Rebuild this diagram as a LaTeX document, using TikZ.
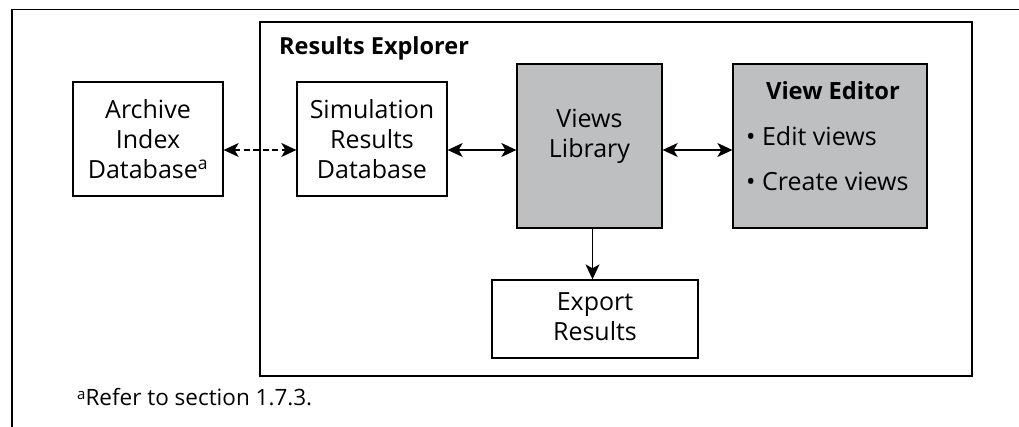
\documentclass[tikz,border=0pt]{standalone}
\usepackage{fontspec}
\setmainfont{Open Sans}
\usetikzlibrary{arrows.meta,calc}
\definecolor{boxgray}{RGB}{190,191,193}
\tikzset{
  frameline/.style={line width=1.4pt, draw=black},
  plainbox/.style={draw=black, line width=1.3pt, fill=white, minimum width=#1, inner sep=0pt},
  graybox/.style={draw=black, line width=1.3pt, fill=boxgray, inner sep=0pt},
  boxtext/.style={font=\fontsize{25}{30}\selectfont, align=center, inner sep=0pt},
  tip/.tip={Stealth[length=15pt,width=14pt,inset=4pt]},
  link/.style={line width=1.3pt, tip-tip},
  onelink/.style={line width=1.3pt, -tip},
  dashlink/.style={link, dash pattern=on 6pt off 3.5pt}
}
\begin{document}
\begin{tikzpicture}[x=1pt, y=-1pt]
  \useasboundingbox (0,0) rectangle (1019,427);
  % page frame (top and left rules)
  \draw[frameline] (1019,9.5) -- (12,9.5) -- (12,427);
  % enclosing Results Explorer box
  \node[draw=black, line width=1.3pt, minimum width=712pt, minimum height=354pt, inner sep=0pt] (explorer) at (616,199) {};
  \node[anchor=base west, font=\fontsize{23.5}{28}\selectfont\bfseries, inner sep=0pt] (title) at (279,55) {Results Explorer};
  % boxes
  \node[plainbox=150pt, minimum height=114pt] (arch) at (148,139) {};
  \node[boxtext] (archtxt) at (148,139) {Archive\\Index\\Database\textsuperscript{a}};
  \node[plainbox=150pt, minimum height=114pt] (sim) at (372,139) {};
  \node[boxtext] (simtxt) at (372,139) {Simulation\\Results\\Database};
  \node[graybox, minimum width=145pt, minimum height=164pt] (views) at (589.5,146) {};
  \node[boxtext] (viewstxt) at (589.5,136) {Views\\Library};
  \node[graybox, minimum width=194pt, minimum height=164pt] (editor) at (830,146) {};
  \node[anchor=base, font=\fontsize{23.7}{30}\selectfont\bfseries, inner sep=0pt] (edtitle) at (833,100) {View Editor};
  \node[anchor=base west, font=\fontsize{25}{30}\selectfont, inner sep=0pt] (edit) at (746,146) {• Edit views};
  \node[anchor=base west, font=\fontsize{25}{30}\selectfont, inner sep=0pt] (create) at (746,191) {• Create views};
  \node[plainbox=206pt, minimum height=78pt] (export) at (595,319) {};
  \node[boxtext] (exporttxt) at (595,317) {Export\\Results};
  % connectors
  \draw[dashlink] ([yshift=-11pt]arch.east) -- ([yshift=-11pt]sim.west);
  \draw[link] ([yshift=-11pt]sim.east) -- ([yshift=-4pt]views.west);
  \draw[link] ([yshift=-4pt]views.east) -- ([yshift=-4pt]editor.west);
  \draw[onelink] ([xshift=3pt]views.south) -- ([xshift=3pt]views.south |- export.north);
  % footnote
  \node[anchor=base west, font=\fontsize{22.5}{26}\selectfont, inner sep=0pt] (note) at (77,405) {{\fontsize{15}{18}\selectfont\raisebox{0.35em}{a}}Refer to section 1.7.3.};
\end{tikzpicture}
\end{document}
